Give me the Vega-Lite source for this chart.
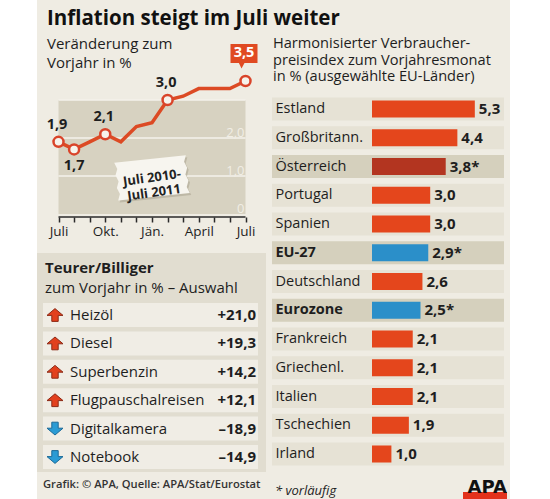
{
  "$schema": "https://vega.github.io/schema/vega-lite/v6.json",
  "padding": 0,
  "background": "#efece3",
  "spacing": 0,
  "config": {
    "font": "Open Sans",
    "view": {"stroke": null},
    "concat": {"spacing": 0},
    "text": {"font": "Open Sans", "color": "#1e1e1e"},
    "title": {"font": "Open Sans", "color": "#1e1e1e", "subtitleFont": "Open Sans", "subtitleColor": "#1e1e1e"},
    "axis": {"labelFont": "Open Sans"}
  },
  "hconcat": [
    {
      "width": 37, "height": 499,
      "view": {"fill": "white", "stroke": null},
      "data": {"values": [{}]},
      "mark": {"type": "point", "opacity": 0}
    },
    {
      "spacing": 0,
      "vconcat": [
        {
          "width": 473, "height": 36,
          "title": {"text": "Inflation steigt im Juli weiter", "anchor": "start", "dx": 10, "fontSize": 20.5, "fontWeight": "bold", "offset": -29, "color": "#111111"},
          "data": {"values": [{}]},
          "mark": {"type": "point", "opacity": 0}
        },
        {
          "spacing": 5,
          "hconcat": [
            {
              "spacing": 0,
              "vconcat": [
                {
                  "width": 230, "height": 176,
                  "title": {"text": ["Veränderung zum", "Vorjahr in %"], "anchor": "start", "dx": 10, "fontSize": 15, "fontWeight": "normal", "lineHeight": 19, "offset": -33},
                  "data": {"values": [
                    {"monat": "2010-07", "wert": 1.9, "beschriftung": "1,9"},
                    {"monat": "2010-08", "wert": 1.7, "beschriftung": "1,7"},
                    {"monat": "2010-09", "wert": 1.9, "beschriftung": null},
                    {"monat": "2010-10", "wert": 2.1, "beschriftung": "2,1"},
                    {"monat": "2010-11", "wert": 1.9, "beschriftung": null},
                    {"monat": "2010-12", "wert": 2.3, "beschriftung": null},
                    {"monat": "2011-01", "wert": 2.4, "beschriftung": null},
                    {"monat": "2011-02", "wert": 3.0, "beschriftung": "3,0"},
                    {"monat": "2011-03", "wert": 3.1, "beschriftung": null},
                    {"monat": "2011-04", "wert": 3.3, "beschriftung": null},
                    {"monat": "2011-05", "wert": 3.3, "beschriftung": null},
                    {"monat": "2011-06", "wert": 3.3, "beschriftung": null},
                    {"monat": "2011-07", "wert": 3.5, "beschriftung": "3,5"}
                  ]},
                  "layer": [
                    {
                      "data": {"values": [{}]},
                      "mark": {"type": "rect", "color": "#d7d2c1"},
                      "encoding": {
                        "x": {"datum": "2010-07", "type": "ordinal",
                          "scale": {"type": "point", "padding": 0, "range": [21.5, 208.5], "domain": ["2010-07","2010-08","2010-09","2010-10","2010-11","2010-12","2011-01","2011-02","2011-03","2011-04","2011-05","2011-06","2011-07"]},
                          "axis": {"title": null, "orient": "bottom", "domain": false, "ticks": true, "tickSize": 5, "tickWidth": 1.5, "tickColor": "#2a2a2a", "offset": 3, "labelAngle": 0, "labelFontSize": 13.5, "labelColor": "#1e1e1e", "labelPadding": 2, "labelOverlap": false, "labelFlush": false, "minExtent": 36, "maxExtent": 36,
                            "labelExpr": "datum.value == '2010-07' ? 'Juli' : datum.value == '2010-10' ? 'Okt.' : datum.value == '2011-01' ? 'Jän.' : datum.value == '2011-04' ? 'April' : datum.value == '2011-07' ? 'Juli' : ''"}},
                        "x2": {"datum": "2011-07"},
                        "y": {"datum": 0, "type": "quantitative", "scale": {"domain": [0, 4.632], "nice": false}, "axis": null},
                        "y2": {"datum": 3}
                      }
                    },
                    {
                      "data": {"values": [{"g": 1}, {"g": 2}, {"g": 3}]},
                      "mark": {"type": "rule", "color": "#f4f2eb", "strokeWidth": 1.5},
                      "encoding": {
                        "x": {"datum": "2010-07", "type": "ordinal"},
                        "x2": {"datum": "2011-07"},
                        "y": {"field": "g", "type": "quantitative"}
                      }
                    },
                    {
                      "data": {"values": [{"g": 0, "beschriftung": "0"}, {"g": 1, "beschriftung": "1,0"}, {"g": 2, "beschriftung": "2,0"}]},
                      "mark": {"type": "text", "align": "right", "baseline": "alphabetic", "dy": -1.5, "dx": -1, "fontSize": 13, "color": "#f1eee5"},
                      "encoding": {
                        "x": {"datum": "2011-07", "type": "ordinal"},
                        "y": {"field": "g", "type": "quantitative"},
                        "text": {"field": "beschriftung"}
                      }
                    },
                    {
                      "data": {"values": [{}]},
                      "mark": {"type": "rule", "color": "#2a2a2a", "strokeWidth": 1.5, "yOffset": 3},
                      "encoding": {
                        "x": {"datum": "2010-07", "type": "ordinal"},
                        "x2": {"datum": "2011-07"},
                        "y": {"datum": 0, "type": "quantitative"}
                      }
                    },
                    {
                      "mark": {"type": "line", "color": "#dc4a24", "strokeWidth": 3.5},
                      "encoding": {
                        "x": {"field": "monat", "type": "ordinal"},
                        "y": {"field": "wert", "type": "quantitative"}
                      }
                    },
                    {
                      "transform": [{"filter": "datum.monat == '2011-07'"}],
                      "mark": {"type": "point", "filled": true, "opacity": 1, "color": "#e04a22", "size": 1600, "strokeWidth": 0,
                        "shape": "M-0.75,-1.85L0.6,-1.85L0.6,-0.9L-0.05,-0.9L-0.2,-0.62L-0.33,-0.9L-0.75,-0.9Z"},
                      "encoding": {
                        "x": {"field": "monat", "type": "ordinal"},
                        "y": {"field": "wert", "type": "quantitative"}
                      }
                    },
                    {
                      "transform": [{"filter": "datum.monat == '2011-07'"}],
                      "mark": {"type": "text", "color": "white", "fontWeight": "bold", "fontSize": 14.5, "dx": -1.5, "dy": -28, "baseline": "middle"},
                      "encoding": {
                        "x": {"field": "monat", "type": "ordinal"},
                        "y": {"field": "wert", "type": "quantitative"},
                        "text": {"field": "beschriftung"}
                      }
                    },
                    {
                      "transform": [{"filter": "datum.beschriftung != null"}],
                      "mark": {"type": "point", "filled": true, "fill": "#f6f3ec", "stroke": "#d9442a", "strokeWidth": 2.5, "size": 100, "opacity": 1},
                      "encoding": {
                        "x": {"field": "monat", "type": "ordinal"},
                        "y": {"field": "wert", "type": "quantitative"}
                      }
                    },
                    {
                      "transform": [{"filter": "indexof(['2010-07','2010-10','2011-02'], datum.monat) >= 0"}],
                      "mark": {"type": "text", "fontWeight": "bold", "fontSize": 14.5, "dy": -17, "dx": -1.5, "baseline": "middle"},
                      "encoding": {
                        "x": {"field": "monat", "type": "ordinal"},
                        "y": {"field": "wert", "type": "quantitative"},
                        "text": {"field": "beschriftung"}
                      }
                    },
                    {
                      "transform": [{"filter": "datum.monat == '2010-08'"}],
                      "mark": {"type": "text", "fontWeight": "bold", "fontSize": 14.5, "dy": 17, "baseline": "middle"},
                      "encoding": {
                        "x": {"field": "monat", "type": "ordinal"},
                        "y": {"field": "wert", "type": "quantitative"},
                        "text": {"field": "beschriftung"}
                      }
                    },
                    {
                      "data": {"values": [{}]},
                      "mark": {"type": "point", "filled": true, "opacity": 0.45, "color": "#9f9985", "size": 1600, "strokeWidth": 0, "angle": -6, "xOffset": 1.5, "yOffset": 2,
                        "shape": "M-1.8,-0.95L1.8,-0.95L1.68,-0.63L1.8,-0.32L1.68,0L1.8,0.32L1.68,0.63L1.8,0.95L-1.8,0.95L-1.68,0.63L-1.8,0.32L-1.68,0L-1.8,-0.32L-1.68,-0.63Z"},
                      "encoding": {
                        "x": {"datum": "2011-01", "type": "ordinal"},
                        "y": {"datum": 0.95, "type": "quantitative"}
                      }
                    },
                    {
                      "data": {"values": [{}]},
                      "mark": {"type": "point", "filled": true, "opacity": 1, "color": "#f7f5ef", "size": 1600, "strokeWidth": 0, "angle": -6,
                        "shape": "M-1.8,-0.95L1.8,-0.95L1.68,-0.63L1.8,-0.32L1.68,0L1.8,0.32L1.68,0.63L1.8,0.95L-1.8,0.95L-1.68,0.63L-1.8,0.32L-1.68,0L-1.8,-0.32L-1.68,-0.63Z"},
                      "encoding": {
                        "x": {"datum": "2011-01", "type": "ordinal"},
                        "y": {"datum": 0.95, "type": "quantitative"}
                      }
                    },
                    {
                      "data": {"values": [{}]},
                      "mark": {"type": "text", "text": "Juli 2010-\nJuli 2011", "lineBreak": "\n", "lineHeight": 15, "angle": -8, "fontWeight": "bold", "fontSize": 13, "baseline": "middle", "align": "center", "color": "#222222"},
                      "encoding": {
                        "x": {"datum": "2011-01", "type": "ordinal"},
                        "y": {"datum": 0.95, "type": "quantitative"}
                      }
                    }
                  ]
                },
                {
                  "width": 229, "height": 219,
                  "view": {"fill": "#e1ddd0", "stroke": null},
                  "title": {"text": "Teurer/Billiger", "subtitle": "zum Vorjahr in % – Auswahl", "anchor": "start", "dx": 8, "offset": -43, "fontSize": 15, "fontWeight": "bold", "subtitleFontSize": 15, "subtitlePadding": 5},
                  "data": {"values": [
                    {"produkt": "Heizöl", "veraenderung": 21.0, "anzeige": "+21,0", "richtung": "auf"},
                    {"produkt": "Diesel", "veraenderung": 19.3, "anzeige": "+19,3", "richtung": "auf"},
                    {"produkt": "Superbenzin", "veraenderung": 14.2, "anzeige": "+14,2", "richtung": "auf"},
                    {"produkt": "Flugpauschalreisen", "veraenderung": 12.1, "anzeige": "+12,1", "richtung": "auf"},
                    {"produkt": "Digitalkamera", "veraenderung": -18.9, "anzeige": "–18,9", "richtung": "ab"},
                    {"produkt": "Notebook", "veraenderung": -14.9, "anzeige": "–14,9", "richtung": "ab"}
                  ]},
                  "layer": [
                    {
                      "mark": {"type": "rect", "color": "#f0ede5", "xOffset": -12, "x2Offset": 2},
                      "encoding": {
                        "x": {"datum": "Symbol", "type": "nominal", "scale": {"type": "point", "domain": ["Symbol", "Wert"], "range": [18, 219], "padding": 0}, "axis": null},
                        "x2": {"datum": "Wert"},
                        "y": {"field": "produkt", "type": "nominal", "sort": null,
                          "scale": {"type": "band", "domain": ["Heizöl","Diesel","Superbenzin","Flugpauschalreisen","Digitalkamera","Notebook"], "range": [50, 216], "paddingInner": 0.155, "paddingOuter": 0},
                          "axis": null}
                      }
                    },
                    {
                      "mark": {"type": "point", "filled": true, "size": 256, "opacity": 1, "strokeWidth": 1},
                      "encoding": {
                        "x": {"datum": "Symbol", "type": "nominal"},
                        "y": {"field": "produkt", "type": "nominal", "sort": null},
                        "shape": {"field": "richtung", "type": "nominal", "legend": null,
                          "scale": {"domain": ["auf", "ab"], "range": ["M0,-0.8L1,0.05L0.4,0.05L0.4,0.8L-0.4,0.8L-0.4,0.05L-1,0.05Z", "M0,0.8L1,-0.05L0.4,-0.05L0.4,-0.8L-0.4,-0.8L-0.4,-0.05L-1,-0.05Z"]}},
                        "fill": {"field": "richtung", "type": "nominal", "legend": null, "scale": {"domain": ["auf", "ab"], "range": ["#e2401d", "#2a9bd4"]}},
                        "stroke": {"field": "richtung", "type": "nominal", "legend": null, "scale": {"domain": ["auf", "ab"], "range": ["#8c2a16", "#1c6a98"]}}
                      }
                    },
                    {
                      "mark": {"type": "text", "align": "left", "dx": 15, "fontSize": 15, "baseline": "middle"},
                      "encoding": {
                        "x": {"datum": "Symbol", "type": "nominal"},
                        "y": {"field": "produkt", "type": "nominal", "sort": null},
                        "text": {"field": "produkt"}
                      }
                    },
                    {
                      "mark": {"type": "text", "align": "right", "fontSize": 15, "fontWeight": "bold", "baseline": "middle"},
                      "encoding": {
                        "x": {"datum": "Wert", "type": "nominal"},
                        "y": {"field": "produkt", "type": "nominal", "sort": null},
                        "text": {"field": "anzeige"}
                      }
                    }
                  ]
                }
              ]
            },
            {
              "width": 232, "height": 431,
              "title": {"text": ["Harmonisierter Verbraucher-", "preisindex zum Vorjahresmonat", "in % (ausgewählte EU-Länder)"], "anchor": "start", "dx": 1, "fontSize": 14.6, "fontWeight": "normal", "lineHeight": 16.5, "offset": -46},
              "data": {"values": [
                {"land": "Estland", "wert": 5.3, "beschriftung": "5,3", "gruppe": "Land"},
                {"land": "Großbritann.", "wert": 4.4, "beschriftung": "4,4", "gruppe": "Land"},
                {"land": "Österreich", "wert": 3.8, "beschriftung": "3,8*", "gruppe": "Österreich"},
                {"land": "Portugal", "wert": 3.0, "beschriftung": "3,0", "gruppe": "Land"},
                {"land": "Spanien", "wert": 3.0, "beschriftung": "3,0", "gruppe": "Land"},
                {"land": "EU-27", "wert": 2.9, "beschriftung": "2,9*", "gruppe": "EU"},
                {"land": "Deutschland", "wert": 2.6, "beschriftung": "2,6", "gruppe": "Land"},
                {"land": "Eurozone", "wert": 2.5, "beschriftung": "2,5*", "gruppe": "EU"},
                {"land": "Frankreich", "wert": 2.1, "beschriftung": "2,1", "gruppe": "Land"},
                {"land": "Griechenl.", "wert": 2.1, "beschriftung": "2,1", "gruppe": "Land"},
                {"land": "Italien", "wert": 2.1, "beschriftung": "2,1", "gruppe": "Land"},
                {"land": "Tschechien", "wert": 1.9, "beschriftung": "1,9", "gruppe": "Land"},
                {"land": "Irland", "wert": 1.0, "beschriftung": "1,0", "gruppe": "Land"}
              ]},
              "encoding": {
                "y": {"field": "land", "type": "nominal", "sort": null,
                  "scale": {"domain": ["Estland","Großbritann.","Österreich","Portugal","Spanien","EU-27","Deutschland","Eurozone","Frankreich","Griechenl.","Italien","Tschechien","Irland"], "range": [59.5, 427.5], "paddingInner": 0.2, "paddingOuter": 0},
                  "axis": {"title": null, "orient": "left", "ticks": false, "domain": false, "labelAlign": "left", "labelPadding": 0, "offset": -3, "labelFontSize": 14.5, "labelColor": "#1e1e1e", "labelLimit": 0, "minExtent": 0, "zindex": 1,
                    "labelFontWeight": {"condition": {"test": "indexof(['EU-27','Eurozone'], datum.value) >= 0", "value": "bold"}, "value": "normal"}}}
              },
              "layer": [
                {
                  "transform": [{"filter": "datum.gruppe == 'Land'"}],
                  "mark": {"type": "rect", "color": "#e6e2d5"}
                },
                {
                  "transform": [{"filter": "datum.gruppe != 'Land'"}],
                  "mark": {"type": "rect", "color": "#d5d0bd"}
                },
                {
                  "mark": {"type": "bar", "height": {"band": 0.74}},
                  "encoding": {
                    "x": {"field": "wert", "type": "quantitative", "scale": {"domain": [-5.155, 6.804], "nice": false, "zero": false}, "axis": null},
                    "color": {"field": "gruppe", "type": "nominal", "legend": null, "scale": {"domain": ["Land", "Österreich", "EU"], "range": ["#e4461c", "#b33520", "#2b8fc9"]}}
                  }
                },
                {
                  "mark": {"type": "text", "align": "left", "dx": 4, "fontWeight": "bold", "fontSize": 15, "baseline": "middle"},
                  "encoding": {
                    "x": {"field": "wert", "type": "quantitative"},
                    "text": {"field": "beschriftung"}
                  }
                }
              ]
            }
          ]
        },
        {
          "width": 473, "height": 32,
          "data": {"values": [{}]},
          "layer": [
            {
              "mark": {"type": "text", "text": "Grafik: © APA, Quelle: APA/Stat/Eurostat", "align": "left", "fontSize": 11.2, "fontWeight": 600, "color": "#333333", "baseline": "middle", "dy": -3},
              "encoding": {"x": {"datum": "Quelle", "type": "nominal", "scale": {"type": "point", "domain": ["Quelle", "Fußnote", "Logo"], "range": [6, 470], "padding": 0}, "axis": null}}
            },
            {
              "mark": {"type": "text", "text": "* vorläufig", "align": "left", "fontSize": 13, "fontStyle": "italic", "color": "#222222", "baseline": "middle", "dy": 3},
              "encoding": {"x": {"datum": "Fußnote", "type": "nominal"}}
            },
            {
              "mark": {"type": "point", "filled": true, "opacity": 1, "color": "#e3321b", "size": 1936, "strokeWidth": 0, "xOffset": -22, "yOffset": 8,
                "shape": "M-1,-0.18L1,-0.18L1,0.18L-1,0.18Z"},
              "encoding": {"x": {"datum": "Logo", "type": "nominal"}}
            },
            {
              "mark": {"type": "text", "text": "APA", "align": "right", "font": "DejaVu Sans", "fontWeight": "bold", "fontSize": 18, "color": "#111111", "baseline": "alphabetic", "dy": 5},
              "encoding": {"x": {"datum": "Logo", "type": "nominal"}}
            }
          ]
        }
      ]
    },
    {
      "width": 40, "height": 499,
      "view": {"fill": "white", "stroke": null},
      "data": {"values": [{}]},
      "mark": {"type": "point", "opacity": 0}
    }
  ]
}
